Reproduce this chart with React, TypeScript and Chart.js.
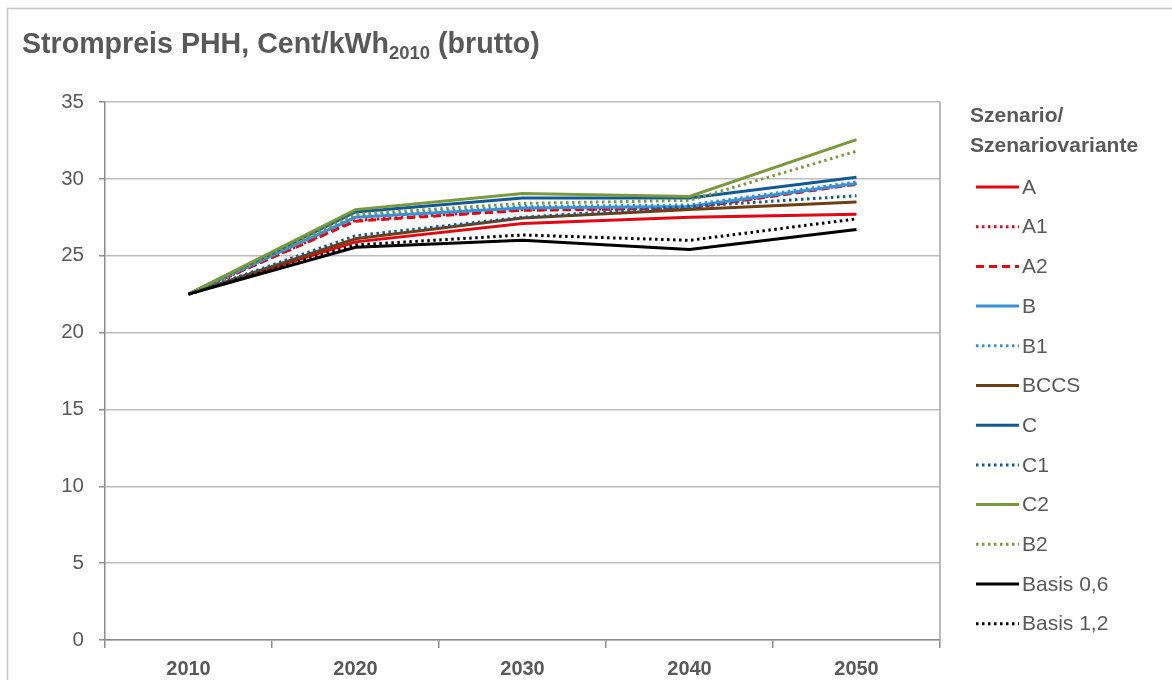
import React, { useEffect, useRef } from "react";
import { Chart, registerables } from "chart.js";

Chart.register(...registerables);

const years = ["2010", "2020", "2030", "2040", "2050"];
const seriesNames = ["A", "A1", "A2", "B", "B1", "BCCS", "C", "C1", "C2", "B2", "Basis 0,6", "Basis 1,2"];

const valuesA = [22.5, 25.9, 27.1, 27.5, 27.7];
const valuesA1 = [22.5, 27.3, 28.0, 28.1, 29.7];
const valuesA2 = [22.5, 27.25, 27.95, 28.1, 29.65];
const valuesB = [22.5, 27.5, 28.1, 28.2, 29.7];
const valuesB1 = [22.5, 27.6, 28.2, 28.3, 29.8];
const valuesBCCS = [22.5, 26.1, 27.45, 28.0, 28.5];
const valuesC = [22.5, 27.85, 28.75, 28.75, 30.1];
const valuesC1 = [22.5, 26.3, 27.5, 28.2, 28.9];
const valuesC2 = [22.5, 28.0, 29.05, 28.85, 32.55];
const valuesB2 = [22.5, 27.7, 28.4, 28.6, 31.8];
const valuesBasis06 = [22.5, 25.55, 26.0, 25.4, 26.7];
const valuesBasis12 = [22.5, 25.7, 26.35, 26.0, 27.4];

const allValues = [
  valuesA, valuesA1, valuesA2, valuesB, valuesB1, valuesBCCS,
  valuesC, valuesC1, valuesC2, valuesB2, valuesBasis06, valuesBasis12,
];

const RED = "#e30613";
const LBLUE = "#3592d6";
const BROWN = "#6e3f10";
const DBLUE = "#125a96";
const GREEN = "#789a3c";
const BLACK = "#000000";

const seriesColors = [RED, RED, RED, LBLUE, LBLUE, BROWN, DBLUE, DBLUE, GREEN, GREEN, BLACK, BLACK];
const DOT = [2.5, 3.5];
const DASH = [8, 5];
const SOLID: number[] = [];
const seriesDash = [SOLID, DOT, DASH, SOLID, DOT, SOLID, SOLID, DOT, SOLID, DOT, SOLID, DOT];

const FONT = "'Liberation Sans', Arial, sans-serif";
const TEXT = "#595959";

const decorPlugin = {
  id: "decor",
  beforeDraw(chart: any) {
    const ctx = chart.ctx;
    ctx.save();
    ctx.fillStyle = "#ffffff";
    ctx.fillRect(0, 0, chart.width, chart.height);
    // outer frame
    ctx.strokeStyle = "#c6c6c6";
    ctx.lineWidth = 1.5;
    ctx.beginPath();
    ctx.moveTo(7.5, chart.height);
    ctx.lineTo(7.5, 8.5);
    ctx.lineTo(chart.width, 8.5);
    ctx.stroke();
    // title
    ctx.fillStyle = TEXT;
    ctx.textBaseline = "alphabetic";
    ctx.textAlign = "left";
    let x = 22;
    ctx.font = `bold 28.6px ${FONT}`;
    const t1 = "Strompreis PHH, Cent/kWh";
    ctx.fillText(t1, x, 53);
    x += ctx.measureText(t1).width;
    ctx.font = `bold 18.5px ${FONT}`;
    ctx.fillText("2010", x, 59);
    x += ctx.measureText("2010").width;
    ctx.font = `bold 28.6px ${FONT}`;
    ctx.fillText(" (brutto)", x, 53);
    ctx.restore();
  },
  afterDraw(chart: any) {
    const ctx = chart.ctx;
    const { right, top, bottom } = chart.chartArea;
    ctx.save();
    ctx.strokeStyle = "#a6a6a6";
    ctx.lineWidth = 1.5;
    ctx.beginPath();
    ctx.moveTo(right, top);
    ctx.lineTo(right, bottom);
    ctx.stroke();

    // legend
    ctx.fillStyle = TEXT;
    ctx.textAlign = "left";
    ctx.textBaseline = "middle";
    ctx.font = `bold 21px ${FONT}`;
    ctx.fillText("Szenario/", 970, 116);
    ctx.fillText("Szenariovariante", 970, 146);
    ctx.font = `21px ${FONT}`;
    chart.data.datasets.forEach((ds: any, i: number) => {
      const y = 187 + i * 39.7;
      ctx.strokeStyle = ds.borderColor;
      ctx.lineWidth = 3;
      ctx.setLineDash(ds.borderDash || []);
      ctx.beginPath();
      ctx.moveTo(976, y);
      ctx.lineTo(1019, y);
      ctx.stroke();
      ctx.setLineDash([]);
      ctx.fillText(ds.label, 1022, y + 1);
    });
    ctx.restore();
  },
};

export default function App() {
  const ref = useRef<HTMLCanvasElement>(null);

  useEffect(() => {
    document.body.style.overflow = "hidden";
    const canvas = ref.current!;
    const datasets = seriesNames.map((name, i) => ({
      label: name,
      data: allValues[i],
      borderColor: seriesColors[i],
      backgroundColor: seriesColors[i],
      borderDash: seriesDash[i],
      borderWidth: 3,
      pointRadius: 0,
      tension: 0,
      fill: false,
      order: seriesNames.length - i,
    }));
    const chart = new Chart(canvas, {
      type: "line",
      data: { labels: years, datasets },
      options: {
        responsive: false,
        animation: false,
        layout: { padding: { left: 0, top: 102, right: 232, bottom: 0 } },
        plugins: {
          legend: { display: false },
          tooltip: { enabled: false },
        },
        scales: {
          x: {
            offset: true,
            grid: {
              offset: true,
              drawOnChartArea: false,
              tickLength: 8,
              color: "#8c8c8c",
              lineWidth: 1.5,
            },
            border: { color: "#8c8c8c", width: 1.5 },
            ticks: {
              color: TEXT,
              font: { family: FONT, size: 20, weight: "bold" },
              padding: 9,
              maxRotation: 0,
            },
            afterFit: (s: any) => { s.height = 40; },
          },
          y: {
            min: 0,
            max: 35,
            ticks: {
              stepSize: 5,
              color: TEXT,
              font: { family: FONT, size: 20.5 },
              padding: 15,
            },
            grid: {
              color: "#bdbdbd",
              lineWidth: 1.5,
              tickLength: 6,
              tickColor: "#8c8c8c",
            },
            border: { color: "#8c8c8c", width: 1.5 },
            afterFit: (s: any) => { s.width = 105; },
          },
        },
      },
      plugins: [decorPlugin],
    });
    return () => chart.destroy();
  }, []);

  return (
    <canvas
      ref={ref}
      width={1172}
      height={680}
      style={{ position: "fixed", left: 0, top: 0, width: 1172, height: 680 }}
    />
  );
}
